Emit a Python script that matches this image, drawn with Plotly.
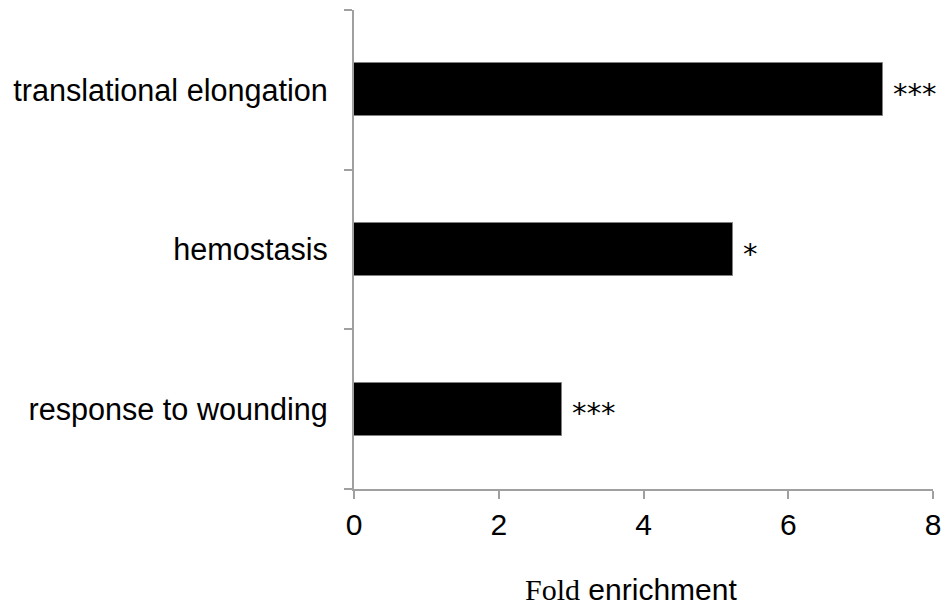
import plotly.graph_objects as go

categories = ["response to wounding", "hemostasis", "translational elongation"]
fold_enrichment = [2.87, 5.24, 7.31]
significance = ["***", "*", "***"]
x_ticks = [0, 2, 4, 6, 8]

AXIS_COLOR = "#a0a0a0"
SANS = "Liberation Sans, Arial, sans-serif"

fig = go.Figure()
fig.add_trace(go.Bar(
    y=categories, x=fold_enrichment, orientation="h",
    width=0.33,
    marker=dict(color="black", line=dict(color="#808080", width=1)),
    showlegend=False, hoverinfo="skip",
))

for cat, val, sig in zip(categories, fold_enrichment, significance):
    fig.add_annotation(
        x=val, y=cat, text=sig, showarrow=False,
        xanchor="left", yanchor="middle", xshift=8, yshift=-4,
        font=dict(family="DejaVu Sans", size=29, color="black"),
    )

# axis title, as an annotation so it can sit slightly left of centre
fig.add_annotation(
    xref="paper", yref="paper", x=0.478, y=0,
    text="<span style='font-family:Liberation Serif, Times New Roman, serif'>Fold</span> enrichment",
    showarrow=False, xanchor="center", yanchor="middle", yshift=-100,
    font=dict(family=SANS, size=30, color="black"),
)

fig.update_layout(
    width=946, height=611,
    margin=dict(l=354, r=13, t=10, b=122),
    paper_bgcolor="white", plot_bgcolor="white",
    font=dict(family=SANS, size=30, color="black"),
    bargap=0,
)
fig.update_xaxes(
    range=[0, 8], tickvals=x_ticks, ticktext=[str(v) for v in x_ticks],
    showgrid=False, zeroline=False, automargin=False,
    showline=True, linecolor=AXIS_COLOR, linewidth=2,
    ticks="outside", ticklen=8, tickcolor=AXIS_COLOR, tickwidth=2,
    tickfont=dict(family=SANS, size=30, color="black"),
    fixedrange=True,
)
fig.update_yaxes(
    categoryorder="array", categoryarray=categories,
    range=[-0.5, 2.5],
    showgrid=False, zeroline=False, automargin=False,
    showline=True, linecolor=AXIS_COLOR, linewidth=2,
    ticks="outside", ticklen=8, tickcolor=AXIS_COLOR, tickwidth=2,
    tickson="boundaries",
    ticklabelstandoff=18,
    tickfont=dict(family=SANS, size=30.6, color="black"),
    fixedrange=True,
)

fig.write_html(
    "out.html",
    config={"displayModeBar": False},
    post_script="document.body.style.margin='0';document.body.style.padding='0';document.body.style.overflow='hidden';",
)
